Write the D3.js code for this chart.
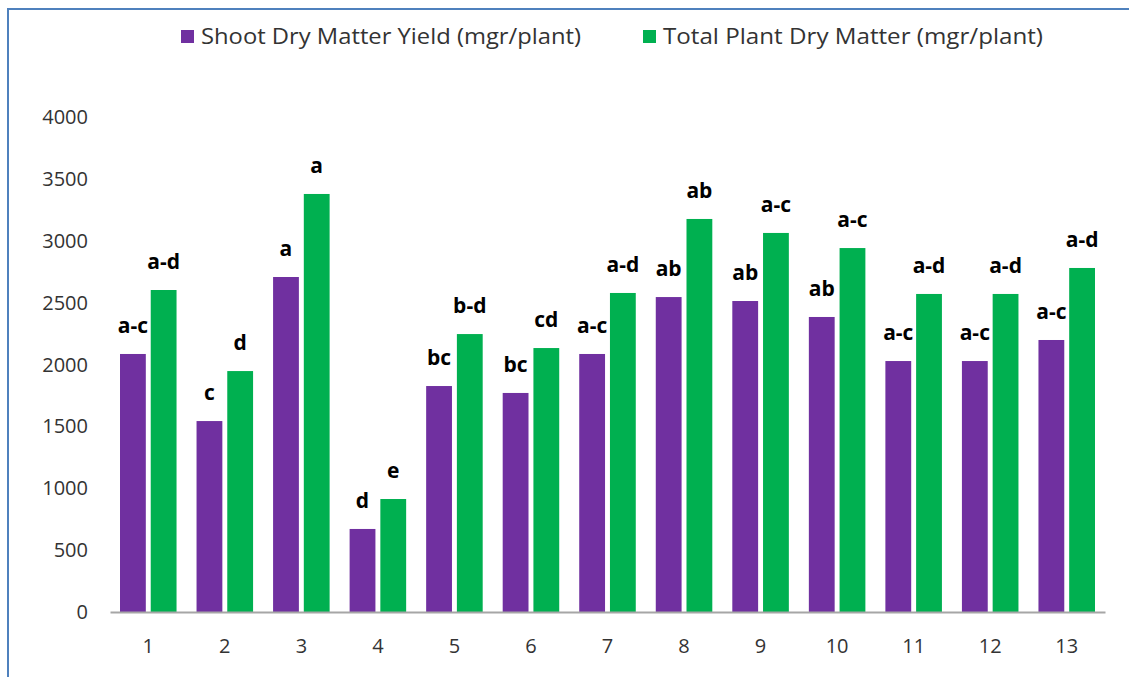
<!DOCTYPE html>
<html>
<head>
<meta charset="utf-8">
<script src="https://cdn.jsdelivr.net/npm/d3@7"></script>
<style>
  body { margin: 0; background: #fff; }
  text { font-family: "Open Sans", "Noto Sans", sans-serif; }
</style>
</head>
<body>
<div id="chart"></div>
<script>
// chart data
var categories = ["1", "2", "3", "4", "5", "6", "7", "8", "9", "10", "11", "12", "13"];
var shootYield = [2085, 1543, 2707, 671, 1826, 1770, 2085, 2545, 2513, 2384, 2028, 2028, 2198];
var totalDry = [2602, 1947, 3378, 913, 2246, 2133, 2578, 3176, 3063, 2941, 2570, 2570, 2780];
var shootLetters = ["a-c", "c", "a", "d", "bc", "bc", "a-c", "ab", "ab", "ab", "a-c", "a-c", "a-c"];
var totalLetters = ["a-d", "d", "a", "e", "b-d", "cd", "a-d", "ab", "a-c", "a-c", "a-d", "a-d", "a-d"];
var seriesNames = ["Shoot Dry Matter Yield (mgr/plant)", "Total Plant  Dry Matter (mgr/plant)"];
var yTicks = [0, 500, 1000, 1500, 2000, 2500, 3000, 3500, 4000];

var w = 1129, h = 677;
var colors = ["#7030A0", "#00B050"];

var svg = d3.select("#chart").append("svg")
  .attr("width", w)
  .attr("height", h);

// outer frame (only left and top edges show)
svg.append("rect")
  .attr("x", 8).attr("y", 9)
  .attr("width", w + 20).attr("height", h + 20)
  .attr("fill", "none")
  .attr("stroke", "#4F81BD")
  .attr("stroke-width", 2);

var x = d3.scaleBand().domain(categories).range([110, 1105]);
var y = d3.scaleLinear().domain([0, 4000]).range([612, 117]);
var inner = d3.scaleBand().domain([0, 1]).range([10, x.bandwidth() - 10]).paddingInner(0.16);

// y axis labels (no line)
svg.append("g").selectAll("text")
  .data(yTicks)
  .enter().append("text")
  .attr("x", 88)
  .attr("y", function(d) { return y(d); })
  .attr("dy", "0.35em")
  .attr("text-anchor", "end")
  .attr("font-size", 20)
  .attr("fill", "#333")
  .text(function(d) { return d; });

// bars
var groups = svg.append("g").selectAll("g")
  .data(categories)
  .enter().append("g")
  .attr("transform", function(d) { return "translate(" + x(d) + ",0)"; });

[shootYield, totalDry].forEach(function(vals, s) {
  groups.append("rect")
    .attr("x", inner(s))
    .attr("width", inner.bandwidth())
    .attr("y", function(d, i) { return y(vals[i]); })
    .attr("height", function(d, i) { return y(0) - y(vals[i]); })
    .attr("fill", colors[s]);
});

// letter labels
[[shootYield, shootLetters], [totalDry, totalLetters]].forEach(function(p, s) {
  groups.append("text")
    .attr("x", inner(s) + inner.bandwidth() / 2)
    .attr("y", function(d, i) { return y(p[0][i]) - 21; })
    .attr("text-anchor", "middle")
    .attr("font-size", 21)
    .attr("font-weight", "bold")
    .attr("fill", "#000")
    .text(function(d, i) { return p[1][i]; });
});

// x axis
var xAxis = svg.append("g")
  .attr("transform", "translate(0," + y(0) + ")")
  .call(d3.axisBottom(x).tickSize(0).tickPadding(27));
xAxis.select(".domain").attr("stroke", "#A6A6A6").attr("stroke-width", 2);
xAxis.selectAll("text")
  .attr("font-size", 20)
  .attr("fill", "#333")
  .style("font-family", "'Open Sans', 'Noto Sans', sans-serif");

// legend
var legendX = [181, 643];
var legend = svg.append("g").selectAll("g")
  .data(seriesNames)
  .enter().append("g")
  .attr("transform", function(d, i) { return "translate(" + legendX[i] + ",30)"; });
legend.append("rect")
  .attr("width", 13).attr("height", 13)
  .attr("fill", function(d, i) { return colors[i]; });
legend.append("text")
  .attr("x", 20).attr("y", 7)
  .attr("dy", "0.35em")
  .attr("font-size", 21)
  .attr("fill", "#333")
  .attr("textLength", 380)
  .attr("lengthAdjust", "spacingAndGlyphs")
  .text(function(d) { return d; });
</script>
</body>
</html>
